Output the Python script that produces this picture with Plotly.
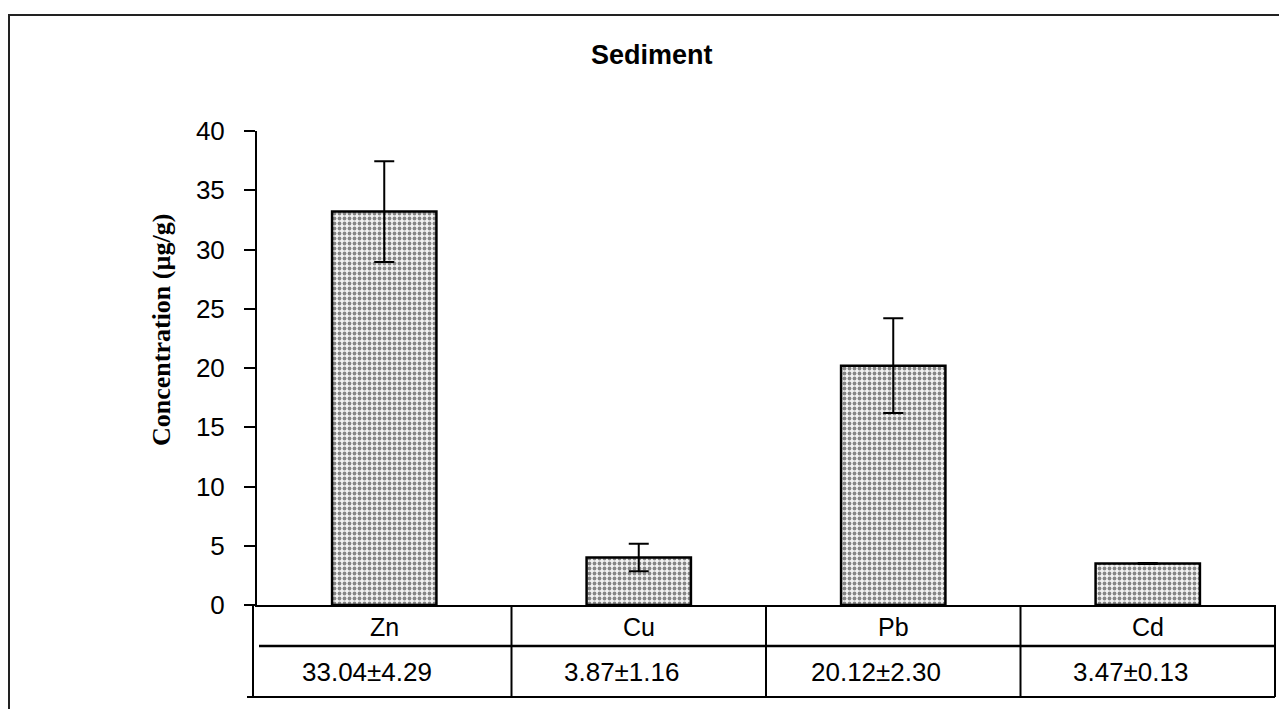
import plotly.graph_objects as go

# ---- data ----
metals = ["Zn", "Cu", "Pb", "Cd"]
bar_values = [33.2, 4.0, 20.2, 3.5]          # plotted bar heights
bar_errors = [4.25, 1.16, 4.0, 0.05]         # plotted error bar half-lengths
table_labels = ["33.04±4.29", "3.87±1.16", "20.12±2.30", "3.47±0.13"]
y_ticks = [0, 5, 10, 15, 20, 25, 30, 35, 40]
title_text = "Sediment"
y_title = "Concentration (µg/g)"

W, H = 1287, 709
OFF = 8  # page body margin
L, R, T, B = 249, 20, 123, 112
pw, ph = W - L - R, H - T - B

def px_x(p):  # screenshot pixel -> paper x
    return (p - OFF - L) / pw

def px_y(p):  # screenshot pixel -> paper y
    return (H - B - (p - OFF)) / ph

xs = list(range(len(metals)))

fig = go.Figure()
fig.add_trace(go.Bar(
    x=xs, y=bar_values, width=0.41,
    marker=dict(color="white",
                line=dict(color="black", width=2.5),
                pattern=dict(shape=".", fgcolor="#1a1a1a", bgcolor="#f2f2f2",
                             size=5, solidity=0.45)),
    error_y=dict(type="data", array=bar_errors, visible=True,
                 color="black", thickness=2, width=10),
    showlegend=False,
))

shapes = []
line = dict(color="black", width=2)
# outer frame
shapes.append(dict(type="rect", xref="paper", yref="paper",
                   x0=px_x(9), x1=px_x(1320), y0=px_y(730), y1=px_y(15),
                   line=dict(color="#222", width=2), layer="below"))
# table
n = len(metals)
y_top, y_mid, y_bot = px_y(605), px_y(646), px_y(697)
for i in range(n + 1):
    xv = i / n if i > 0 else px_x(253)
    shapes.append(dict(type="line", xref="paper", yref="paper",
                       x0=xv, x1=xv, y0=y_top, y1=y_bot, line=line))
shapes.append(dict(type="line", xref="paper", yref="paper",
                   x0=px_x(259), x1=1.0, y0=y_mid, y1=y_mid,
                   line=dict(color="black", width=2.5)))
shapes.append(dict(type="line", xref="paper", yref="paper",
                   x0=px_x(247), x1=1.0, y0=y_bot, y1=y_bot, line=line))

hfont = dict(family="Arial, Liberation Sans", size=25, color="black")
vfont = dict(family="Arial, Liberation Sans", size=26, color="black")
annotations = []
for i, m in enumerate(metals):
    annotations.append(dict(x=i, xref="x", y=px_y(627), yref="paper",
                            xanchor="center", yanchor="middle",
                            text=m, showarrow=False, font=hfont))
    annotations.append(dict(x=i, xref="x", y=px_y(672), yref="paper",
                            xanchor="center", yanchor="middle", xshift=-17,
                            text=table_labels[i], showarrow=False, font=vfont))
annotations.append(dict(x=px_x(161), xref="paper", y=px_y(330), yref="paper",
                        xanchor="center", yanchor="middle",
                        text="<b>" + y_title + "</b>", textangle=-90, showarrow=False,
                        font=dict(family="Liberation Serif", size=26, color="black")))
annotations.append(dict(x=px_x(652), xref="paper", y=px_y(55), yref="paper",
                        xanchor="center", yanchor="middle",
                        text="<b>" + title_text + "</b>", showarrow=False,
                        font=dict(family="Arial, Liberation Sans", size=27, color="black")))

fig.update_layout(
    width=W, height=H,
    margin=dict(l=L, r=R, t=T, b=B, pad=0),
    paper_bgcolor="white", plot_bgcolor="white",
    shapes=shapes, annotations=annotations,
    xaxis=dict(range=[-0.5, n - 0.5], showticklabels=False, ticks="",
               showgrid=False, zeroline=False, showline=True,
               linecolor="black", linewidth=2, fixedrange=True),
    yaxis=dict(range=[0, 40], tickvals=y_ticks, ticks="outside", ticklen=11,
               tickwidth=2, tickcolor="black", ticklabelstandoff=14,
               showgrid=False, zeroline=False, showline=True,
               linecolor="black", linewidth=2,
               tickfont=dict(family="Arial, Liberation Sans", size=26, color="black")),
)

fig.write_html("out.html")
